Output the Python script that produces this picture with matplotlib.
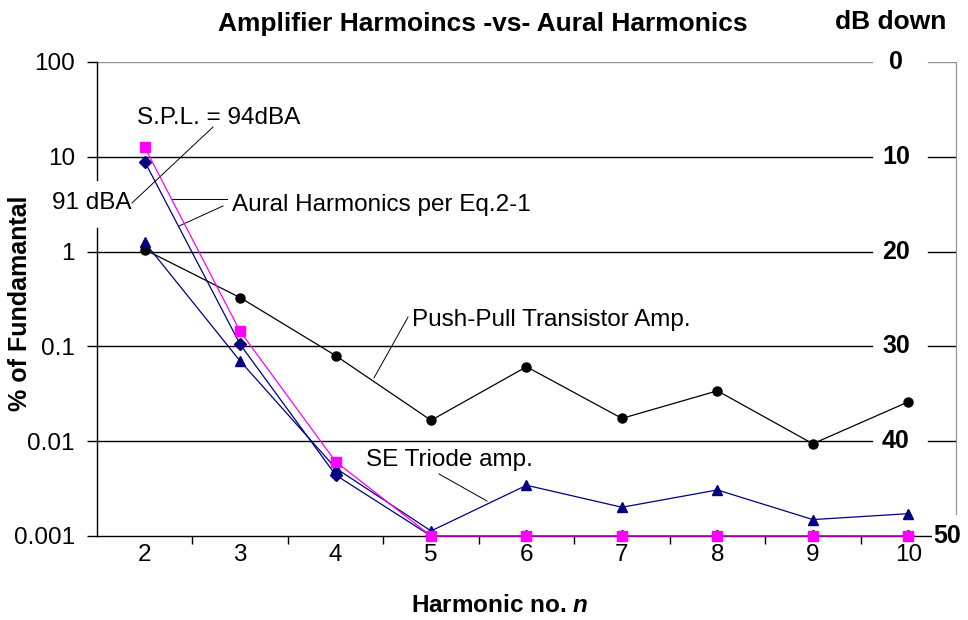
import matplotlib
matplotlib.use("Agg")
import matplotlib.pyplot as plt

plt.rcParams["font.family"] = ["Liberation Sans", "DejaVu Sans"]
plt.rcParams["mathtext.fontset"] = "custom"
plt.rcParams["mathtext.it"] = "Liberation Sans:italic:bold"

harmonic = [2, 3, 4, 5, 6, 7, 8, 9, 10]

# % of fundamental for each harmonic
push_pull = [1.05, 0.327, 0.080, 0.0166, 0.061, 0.0174, 0.034, 0.0094, 0.026]
se_triode = [1.25, 0.070, 0.0052, 0.00113, 0.00343, 0.00201, 0.00306, 0.00149, 0.00172]
aural_94 = [12.6, 0.144, 0.0061, 0.001, 0.001, 0.001, 0.001, 0.001, 0.001]
aural_91 = [8.9, 0.105, 0.0044, 0.001, 0.001, 0.001, 0.001, 0.001, 0.001]

pct_ticks = [0.001, 0.01, 0.1, 1, 10, 100]
pct_labels = ["0.001", "0.01", "0.1", "1", "10", "100"]
db_down = [0, 10, 20, 30, 40, 50]

FS = 17.5

fig = plt.figure(figsize=(9.68, 6.2), dpi=100)
ax = fig.add_axes([97 / 968, 1 - 536 / 620, 859 / 968, 474 / 620])
ax.set_yscale("log")
ax.set_xlim(1.5, 10.5)
ax.set_ylim(0.001, 100)

# gridlines broken where the dB labels sit
gap_lo, gap_hi = 0.902, 0.967
for v in pct_ticks[1:]:
    col = "#909090" if v == 100 else "black"
    ax.axhline(v, 0, gap_lo, color=col, lw=1.0, zorder=1)
    ax.axhline(v, gap_hi, 1, color=col, lw=1.0, zorder=1)

ax.plot(harmonic, push_pull, color="black", lw=0.9, marker="o", ms=6.5, zorder=3)
ax.plot(harmonic, se_triode, color="#000080", lw=0.9, marker="^", ms=7.5, zorder=3)
ax.plot(harmonic, aural_91, color="#000080", lw=0.9, marker="D", ms=6, zorder=3)
ax.plot(harmonic, aural_94, color="#FF00FF", lw=0.9, marker="s", ms=7, zorder=4,
        clip_on=False)

for side in ["top", "left"]:
    ax.spines[side].set_visible(False)
ax.spines["right"].set_color("#909090")
ax.spines["right"].set_bounds(0.0017, 100)
ax.spines["bottom"].set_linewidth(1.0)

# left axis line interrupted by the "91 dBA" note
ax.axvline(1.5, 0.751, 1, color="black", lw=1.0, clip_on=False)
ax.axvline(1.5, 0, 0.65, color="black", lw=1.0, clip_on=False)

ax.set_yticks(pct_ticks)
ax.set_yticklabels(pct_labels)
ax.minorticks_off()
ax.tick_params(axis="y", which="major", direction="out", length=7, width=1.0,
               labelsize=FS, pad=9, right=False)
ax.set_xticks(harmonic)
ax.set_xticklabels([str(h) for h in harmonic])
ax.set_xticks([h + 0.5 for h in harmonic[:-1]], minor=True)
ax.tick_params(axis="x", which="major", length=0, labelsize=FS, pad=6)
ax.tick_params(axis="x", which="minor", direction="out", length=6, width=1.0)

# dB down scale on the right
for db in db_down:
    y = 100 / 10 ** (db / 10)
    if db == 50:
        ax.text(10.41, y, "50", fontsize=18, fontweight="bold", ha="center",
                va="center", clip_on=False, zorder=6,
                bbox=dict(facecolor="white", edgecolor="none", pad=1))
    else:
        ax.text(9.87, y, str(db), fontsize=18, fontweight="bold", ha="center",
                va="center", zorder=5)

# callouts
ax.text(1.919, 25.7, "S.P.L. = 94dBA", fontsize=FS, ha="left", va="center")
ax.plot([2.715, 1.867], [20.6, 3.26], color="black", lw=0.7)
ax.text(1.029, 3.26, "91 dBA", fontsize=FS, ha="left", va="center", clip_on=False)
ax.text(2.914, 3.1, "Aural Harmonics per Eq.2-1", fontsize=FS, ha="left", va="center")
ax.plot([2.862, 2.286], [3.59, 3.59], color="black", lw=0.7)
ax.plot([2.820, 2.359], [3.03, 1.86], color="black", lw=0.7)
ax.text(4.80, 0.19, "Push-Pull Transistor Amp.", fontsize=FS, ha="left", va="center")
ax.plot([4.759, 4.402], [0.204, 0.0465], color="black", lw=0.7)
ax.text(4.318, 0.00634, "SE Triode amp.", fontsize=FS, ha="left", va="center")
ax.plot([5.083, 5.586], [0.00451, 0.00234], color="black", lw=0.7)

fig.text(483 / 968, 1 - 24 / 620, "Amplifier Harmoincs -vs- Aural Harmonics",
         fontsize=19, fontweight="bold", ha="center", va="center")
fig.text(891 / 968, 1 - 22 / 620, "dB down", fontsize=19, fontweight="bold",
         ha="center", va="center")
fig.text(500 / 968, 1 - 606 / 620, r"Harmonic no. $n$", fontsize=FS,
         fontweight="bold", ha="center", va="center")
fig.text(20 / 968, 1 - 303 / 620, "% of Fundamantal", fontsize=18,
         fontweight="bold", ha="center", va="center", rotation=90)

fig.savefig("out.png", dpi=100)
